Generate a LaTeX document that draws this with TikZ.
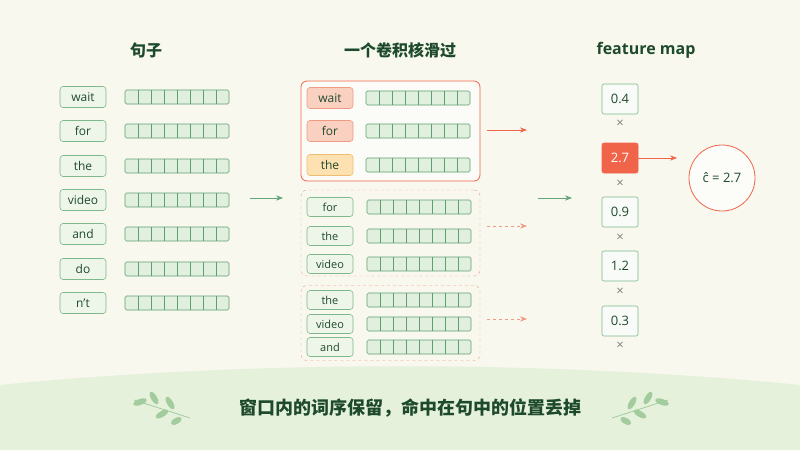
\documentclass[tikz,border=0pt]{standalone}
\usepackage{fontspec}
\setmainfont{Open Sans}
\newfontfamily\cjk{Noto Sans CJK SC}
\usetikzlibrary{positioning,arrows.meta}
\definecolor{bgcream}{HTML}{F8F8EF}
\definecolor{bandgreen}{HTML}{E6F1DC}
\definecolor{wordfill}{HTML}{EEF6EA}
\definecolor{worddraw}{HTML}{7DB98C}
\definecolor{cellfill}{HTML}{E1F0DE}
\definecolor{celldraw}{HTML}{5E9F70}
\definecolor{hotred}{HTML}{F0654A}
\definecolor{softred}{HTML}{FAD0C0}
\definecolor{softredline}{HTML}{F09A84}
\definecolor{softyellow}{HTML}{FDE1B0}
\definecolor{yellowline}{HTML}{F0BD70}
\definecolor{darkgreen}{HTML}{1E4A2C}
\definecolor{arrowgreen}{HTML}{5FA577}
\definecolor{leafgreen}{HTML}{A3CC9E}
% one embedding row: name, x of left end, y
\newcommand{\embrow}[3]{%
  \node[vecbox] (#1) at (#2+52,#3) {};
  \foreach \k in {1,...,7} {\draw[celldraw, semithick] (#2+\k*13,#3-7) -- (#2+\k*13,#3+7);}
}
\begin{document}
\begin{tikzpicture}[x=1pt,y=-1pt,
  word/.style={rectangle, rounded corners=3pt, semithick, draw=worddraw, fill=wordfill, minimum width=46pt, minimum height=21pt, inner sep=0pt, font=\fontsize{12}{12}\selectfont, text=darkgreen},
  smallword/.style={word, minimum width=46pt, minimum height=19pt, font=\fontsize{11}{11}\selectfont},
  vecbox/.style={rectangle, rounded corners=1.5pt, semithick, draw=celldraw, fill=cellfill, minimum width=104pt, minimum height=14pt, inner sep=0pt},
  fmap/.style={rectangle, rounded corners=2pt, semithick, draw=worddraw, fill=white!60!wordfill, minimum width=36pt, minimum height=30pt, font=\fontsize{13}{13}\selectfont, text=darkgreen},
  times/.style={font=\fontsize{13}{13}\selectfont, text=gray},
  title/.style={font=\cjk\bfseries\fontsize{16}{16}\selectfont, text=darkgreen},
  leaf/.style={fill=leafgreen, draw=none}
]
\useasboundingbox (0,0) rectangle (800,450);
\fill[bgcream] (0,0) rectangle (800,450);
\fill[bandgreen] (0,450) -- (0,385) .. controls (250,360) and (550,360) .. (800,385) -- (800,450) -- cycle;

\node[title] (tsent) at (146,50) {句子};
\node[title] (tconv) at (400,50) {一个卷积核滑过};
\node[title, font=\bfseries\fontsize{16}{16}\selectfont] (tmap) at (646,50) {feature map};

% sentence
\foreach \w/\y [count=\i] in {wait/97,for/131,the/166,video/200,and/234,do/269,n't/303} {
  \node[word] (w\i) at (83,\y) {\w};
  \embrow{v\i}{125}{\y}
}

% first window
\node[draw=hotred, thick, rounded corners=6pt, fill=white!50!bgcream, minimum width=179pt, minimum height=100pt] (win1) at (390.5,131) {};
\node[word, draw=softredline, fill=softred] (a1) at (330,98) {wait};
\node[word, draw=softredline, fill=softred] (a2) at (330,131) {for};
\node[word, draw=yellowline, fill=softyellow] (a3) at (330,165) {the};
\embrow{e1}{366}{98}
\embrow{e2}{366}{131}
\embrow{e3}{366}{165}

% second window
\node[draw=softredline, dashed, rounded corners=6pt, minimum width=179pt, minimum height=86pt] (win2) at (390.5,233) {};
\foreach \w/\y [count=\i] in {for/207,the/236,video/264} {
  \node[smallword] (b\i) at (330,\y) {\w};
  \embrow{f\i}{367}{\y}
}

% third window
\node[draw=softredline, dashed, rounded corners=6pt, minimum width=179pt, minimum height=75pt] (win3) at (390.5,323) {};
\foreach \w/\y [count=\i] in {the/300,video/324,and/347} {
  \node[smallword] (c\i) at (330,\y) {\w};
  \embrow{g\i}{367}{\y}
}

% feature map
\node[fmap] (m1) at (620,99) {0.4};
\node[fmap, draw=hotred, fill=hotred, text=white] (m2) at (620,158) {2.7};
\node[fmap] (m3) at (620,212) {0.9};
\node[fmap] (m4) at (620,266) {1.2};
\node[fmap] (m5) at (620,321) {0.3};
\foreach \y [count=\i] in {124,184,238,292,346} {\node[times] (x\i) at (620,\y) {×};}

\node[circle, draw=hotred, thick, fill=white!60!bgcream, minimum size=66pt, inner sep=0pt, font=\fontsize{13}{13}\selectfont, text=darkgreen] (chat) at (722,178) {\^{c} = 2.7};

% arrows
\coordinate (g1s) at (250,198);
\coordinate (g1e) at (283,198);
\coordinate (g2s) at (538,198);
\coordinate (g2e) at (572,198);
\coordinate (r1e) at (527,130);
\coordinate (r2e) at (527,226);
\coordinate (r3e) at (527,319);
\begin{scope}[thick, -{Stealth[length=7pt]}]
\draw[arrowgreen] (g1s) -- (g1e);
\draw[arrowgreen] (g2s) -- (g2e);
\draw[hotred] (win1.east |- r1e) ++(7,0) -- (r1e);
\draw[softredline, dashed] (win2.east |- r2e) ++(7,0) -- (r2e);
\draw[softredline, dashed] (win3.east |- r3e) ++(7,0) -- (r3e);
\draw[hotred] (m2.east) -- (677,158);
\end{scope}

% bottom note
\node[font=\cjk\bfseries\fontsize{18}{18}\selectfont, text=darkgreen] (note) at (410,408) {窗口内的词序保留，命中在句中的位置丢掉};
\foreach \cx/\s in {162/1,640/-1} {
  \begin{scope}[shift={(\cx,408)}, xscale=\s]
  \draw[leafgreen, thick] (-28,-8) -- (28,10);
  \fill[leaf, rotate around={20:(-22,-6)}] (-22,-6) ellipse (7pt and 3pt);
  \fill[leaf, rotate around={-60:(-8,-10)}] (-8,-10) ellipse (7pt and 3pt);
  \fill[leaf, rotate around={-60:(8,-5)}] (8,-5) ellipse (7pt and 3pt);
  \fill[leaf, rotate around={30:(0,6)}] (0,6) ellipse (7pt and 3pt);
  \fill[leaf, rotate around={30:(16,12)}] (14,12) ellipse (6pt and 3pt);
  \end{scope}
}
\end{tikzpicture}
\end{document}
